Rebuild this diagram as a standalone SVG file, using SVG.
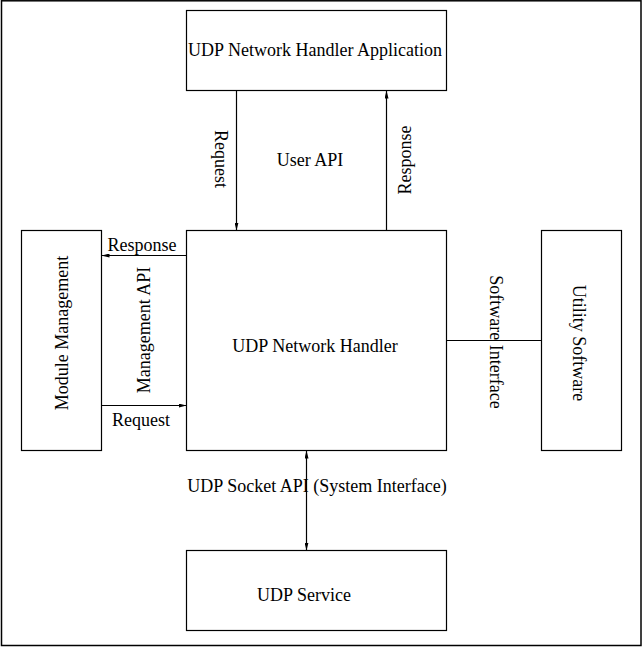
<svg xmlns="http://www.w3.org/2000/svg" width="642" height="647" viewBox="0 0 642 647">
<style>
.box{fill:#fff;stroke:#000;stroke-width:1.2}
.ln{fill:none;stroke:#000;stroke-width:1.2}
text{font-family:"Liberation Serif","Times New Roman",serif;font-size:18px;fill:#000;text-anchor:middle}
</style>
<defs>
<marker id="ah" viewBox="0 0 8 4" refX="8" refY="2" markerWidth="8" markerHeight="4" markerUnits="userSpaceOnUse" orient="auto-start-reverse">
<path d="M0,0 L8,2 L0,4 z" fill="#000"/>
</marker>
</defs>
<rect x="1.5" y="0.8" width="639.5" height="644.7" fill="#fff" stroke="#000" stroke-width="1.5"/>
<g id="app"><rect class="box" x="186.5" y="10.5" width="260" height="80"/><text x="315" y="56">UDP Network Handler Application</text></g>
<g id="handler"><rect class="box" x="186.5" y="230.5" width="260" height="220"/><text x="315" y="352">UDP Network Handler</text></g>
<g id="module"><rect class="box" x="21.5" y="230.5" width="80" height="220"/><text transform="translate(68,333) rotate(-90)">Module Management</text></g>
<g id="utility"><rect class="box" x="541.5" y="230.5" width="80" height="220"/><text transform="translate(573,343) rotate(90)">Utility Software</text></g>
<g id="service"><rect class="box" x="186.5" y="550.5" width="260" height="80"/><text x="304" y="601">UDP Service</text></g>
<g id="connectors">
<line class="ln" x1="236.5" y1="90.5" x2="236.5" y2="230.5" marker-end="url(#ah)"/>
<line class="ln" x1="386.5" y1="230.5" x2="386.5" y2="90.5" marker-end="url(#ah)"/>
<line class="ln" x1="186.5" y1="255.5" x2="101.5" y2="255.5" marker-end="url(#ah)"/>
<line class="ln" x1="101.5" y1="405.5" x2="186.5" y2="405.5" marker-end="url(#ah)"/>
<line class="ln" x1="446.5" y1="340.5" x2="541.5" y2="340.5"/>
<line class="ln" x1="306.5" y1="450.5" x2="306.5" y2="550.5" marker-start="url(#ah)" marker-end="url(#ah)"/>
<text transform="translate(215,159) rotate(90)">Request</text>
<text transform="translate(411,160) rotate(-90)">Response</text>
<text x="310" y="166">User API</text>
<text x="142" y="251">Response</text>
<text transform="translate(150,330) rotate(-90)">Management API</text>
<text x="141" y="426">Request</text>
<text transform="translate(490,342) rotate(90)">Software Interface</text>
<text x="317" y="492">UDP Socket API (System Interface)</text>
</g>
</svg>
